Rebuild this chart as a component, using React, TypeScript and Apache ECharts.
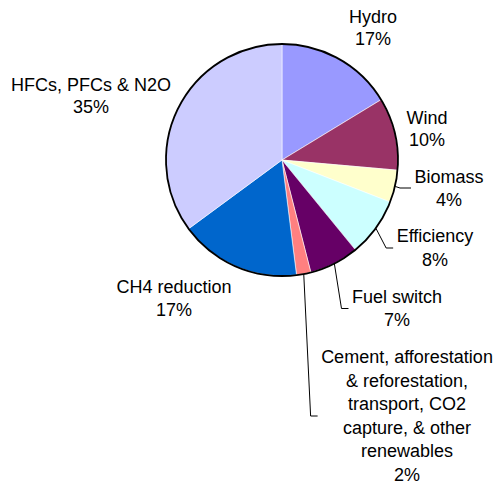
import React, { useEffect, useRef } from "react";
import * as echarts from "echarts";

// Data
const categories = [
  "Hydro",
  "Wind",
  "Biomass",
  "Efficiency",
  "Fuel switch",
  "Cement, afforestation\n& reforestation,\ntransport, CO2\ncapture, & other\nrenewables",
  "CH4 reduction",
  "HFCs, PFCs & N2O",
];
const shares = [16.3, 10.1, 4.5, 8.2, 6.9, 2.0, 16.9, 35.1];
const percentLabels = ["17%", "10%", "4%", "8%", "7%", "2%", "17%", "35%"];
const colors = ["#9999FF", "#993366", "#FFFFCC", "#CCFFFF", "#660066", "#FF8080", "#0066CC", "#CCCCFF"];

// Layout (label anchor centres, leader lines)
const labelCenterX = [373, 427, 449, 435, 397, 407, 174, 91];
const labelCenterY = [28, 129, 188, 248, 308.5, 416, 298, 96];
const hasLeader = [false, false, true, true, true, true, false, false];
const leaderRun = [0, 0, 11, 7, 7, 7, 0, 0];
const lineHeights = [22, 22, 23, 24, 23, 23.6, 23, 22];

const CX = 282;
const CY = 160;
const R = 116;

export default function App() {
  const ref = useRef<HTMLDivElement>(null);
  useEffect(() => {
    if (!ref.current) return;
    const chart = echarts.init(ref.current, undefined, { renderer: "svg" });
    const total = shares.reduce((a, b) => a + b, 0);
    const edgePoint = (i: number) => {
      let before = 0;
      for (let k = 0; k < i; k++) before += shares[k];
      const mid = ((before + shares[i] / 2) / total) * Math.PI * 2;
      return [CX + R * Math.sin(mid), CY - R * Math.cos(mid)];
    };
    chart.setOption({
      animation: false,
      backgroundColor: "#ffffff",
      textStyle: { fontFamily: "Liberation Sans, Arial, sans-serif" },
      series: [
        {
          type: "pie",
          center: [CX, CY],
          radius: [0, R],
          startAngle: 90,
          clockwise: true,
          avoidLabelOverlap: false,
          silent: true,
          itemStyle: { borderColor: "rgba(255,255,255,0.7)", borderWidth: 0.8 },
          label: {
            show: true,
            position: "outside",
            color: "#000",
            fontSize: 18,
            fontFamily: "Liberation Sans, Arial, sans-serif",
            align: "center",
            formatter: (p: any) => `${categories[p.dataIndex]}\n${percentLabels[p.dataIndex]}`,
          },
          labelLine: { show: true, lineStyle: { color: "#000", width: 1 }, length: 5, length2: 5 },
          labelLayout: (p: any) => {
            const i = p.dataIndex;
            const w = p.labelRect ? p.labelRect.width : 0;
            const cy = labelCenterY[i];
            const endX = labelCenterX[i] - w / 2 - 3.5;
            const start =
              p.labelLinePoints && p.labelLinePoints[0] ? p.labelLinePoints[0] : edgePoint(i);
            const res: any = {
              x: labelCenterX[i],
              y: labelCenterY[i],
              align: "center",
              verticalAlign: "middle",
            };
            if (hasLeader[i]) {
              res.labelLinePoints = [start, [endX - leaderRun[i], cy], [endX, cy]];
            }
            return res;
          },
          data: shares.map((v, i) => ({
            name: categories[i],
            value: v,
            itemStyle: { color: colors[i] },
            label: { lineHeight: lineHeights[i] },
            labelLine: { show: hasLeader[i] },
          })),
        },
        {
          type: "pie",
          center: [CX, CY],
          radius: [0, R],
          silent: true,
          z: 5,
          label: { show: false },
          labelLine: { show: false },
          itemStyle: { color: "rgba(0,0,0,0)", borderColor: "#000", borderWidth: 1.8 },
          data: [{ value: 1, name: "outline" }],
        },
      ],
    });
    return () => chart.dispose();
  }, []);
  return (
    <div
      ref={ref}
      style={{ position: "absolute", left: 0, top: 0, width: 497, height: 484 }}
    />
  );
}
